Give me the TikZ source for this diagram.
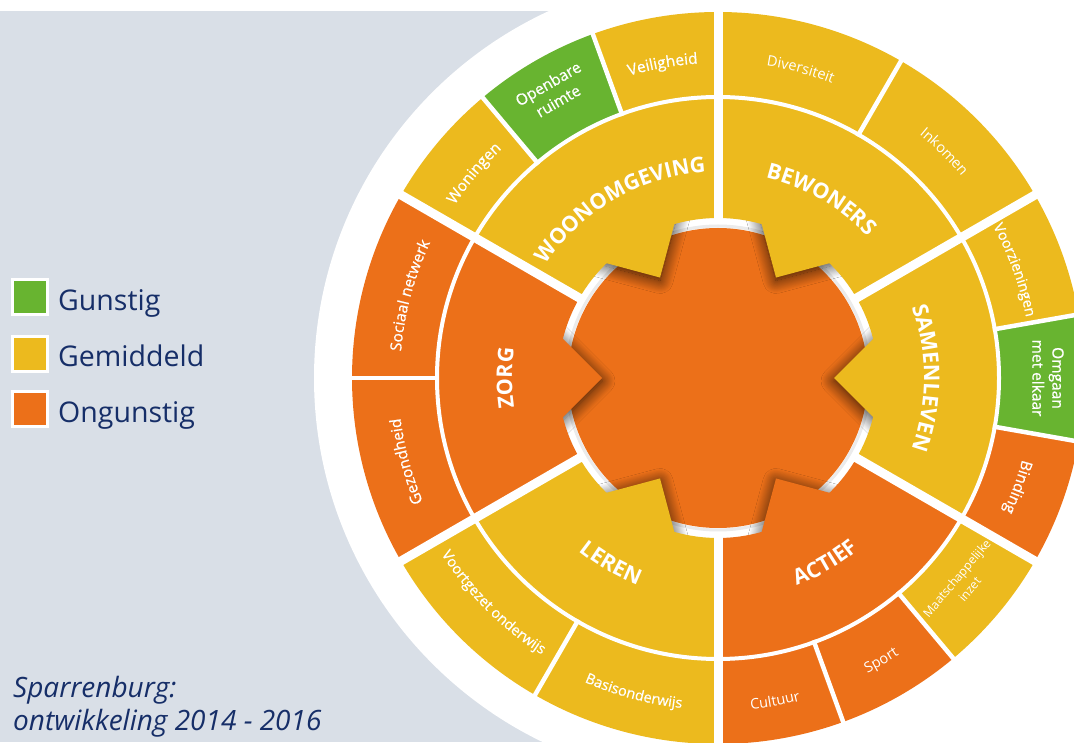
\documentclass[tikz,border=0pt]{standalone}
\usepackage{fontspec}
\setmainfont{Open Sans}
\newfontfamily\semibf[FakeBold=0.6]{Open Sans}
\usetikzlibrary{decorations.text,shadows.blur,calc}
\definecolor{cgreen}{RGB}{104,180,48}
\definecolor{cyellow}{RGB}{236,186,30}
\definecolor{corange}{RGB}{236,112,25}
\definecolor{cbg}{RGB}{217,223,231}
\definecolor{cnavy}{RGB}{22,46,104}
\newcommand\annsec[5]{\fill[#1] (#2:#4pt) arc[start angle=#2,end angle=#3,radius=#4pt] -- (#3:#5pt) arc[start angle=#3,end angle=#2,radius=#5pt] -- cycle;}
\newcommand\mainlbl{\fontsize{21.5}{21.5}\selectfont\bfseries}
\newcommand\smlbl{\fontsize{14.5}{14.5}\selectfont}
\newcommand\smlblb{\semibf\fontsize{15.5}{15.5}\selectfont}
\newcommand\smlblc{\semibf\fontsize{14.5}{14.5}\selectfont}
\newcommand\tipshape[2]{\fill[#2, blur shadow={shadow xshift=0pt, shadow yshift=-3pt, shadow blur radius=13pt, shadow opacity=80, shadow blur steps=18}] (#1:116pt) -- ($(#1:116pt)+(#1+45:110pt)$) -- ($(#1:116pt)+(#1-45:110pt)$) -- cycle;}
\tikzset{
  mainarc/.style={decorate, decoration={text along path, text={|\mainlbl|#1}, text align=center, text color=white}},
  smarc/.style={decorate, decoration={text along path, text={|\smlbl|#1}, text align=center, text color=white}},
  smarcb/.style={decorate, decoration={text along path, text={|\smlblb|#1}, text align=center, text color=white}},
  smarcc/.style={decorate, decoration={text along path, text={|\smlblc|#1}, text align=center, text color=white}},
  thickgap/.style={draw=white, line width=9pt},
  thingap/.style={draw=white, line width=4.5pt},
  twoline/.style={text=white, align=center, inner sep=0pt, font=\semibf\fontsize{15.5}{20}\selectfont},
  legbox/.style={draw=white, line width=3pt, minimum size=35pt, inner sep=0pt},
  legtext/.style={text=cnavy, anchor=base west, inner sep=0pt, font=\fontsize{28.5}{30}\selectfont},
  captext/.style={text=cnavy, anchor=base west, inner sep=0pt, font=\fontsize{28}{30}\selectfont\itshape},
}
\begin{document}
\begin{tikzpicture}[x=1pt,y=1pt]
\useasboundingbox (0,0) rectangle (1074,742);
\clip (0,0) rectangle (1074,742);
\fill[white] (0,0) rectangle (1074,742);
\fill[cbg] (0,0) rectangle (718,731);
\begin{scope}[shift={(718,364)}]
  \fill[white] (0,0) circle[radius=404pt];
  % centre
  \draw[black!8, line width=3pt] (0,0) circle[radius=152pt];
  \fill[corange] (0,0) circle[radius=150pt];
  \tipshape{120}{cyellow}
  \tipshape{60}{cyellow}
  \tipshape{0}{cyellow}
  \tipshape{-60}{corange}
  \tipshape{-120}{cyellow}
  \tipshape{180}{corange}
  % outer ring
  \annsec{cyellow}{90}{110}{281}{366}
  \annsec{cgreen}{110}{130}{281}{366}
  \annsec{cyellow}{130}{150}{281}{366}
  \annsec{cyellow}{30}{90}{281}{366}
  \annsec{cyellow}{10}{30}{281}{366}
  \annsec{cgreen}{-10}{10}{281}{366}
  \annsec{corange}{-30}{-10}{281}{366}
  \annsec{cyellow}{-50}{-30}{281}{366}
  \annsec{corange}{-90}{-50}{281}{366}
  \annsec{cyellow}{-150}{-90}{281}{366}
  \annsec{corange}{150}{210}{281}{366}
  % middle ring
  \annsec{cyellow}{90}{150}{160}{281}
  \annsec{cyellow}{30}{90}{160}{281}
  \annsec{cyellow}{-30}{30}{160}{281}
  \annsec{corange}{-90}{-30}{160}{281}
  \annsec{cyellow}{-150}{-90}{160}{281}
  \annsec{corange}{150}{210}{160}{281}
  % gaps
  \draw[white, line width=4pt] (0,0) circle[radius=281pt];
  \foreach \a in {30,90,150,210,270,330} \draw[thickgap] (\a:159pt) -- (\a:380pt);
  \foreach \a in {110,130,60,10,-10,-50,-70,-120,180} \draw[thingap] (\a:279pt) -- (\a:380pt);
  % main labels
  \path[mainarc=WOONOMGEVING] (150:206pt) arc[start angle=150, end angle=90, radius=206pt];
  \path[mainarc=BEWONERS] (90:206pt) arc[start angle=90, end angle=30, radius=206pt];
  \path[mainarc=SAMENLEVEN] (30:206pt) arc[start angle=30, end angle=-30, radius=206pt];
  \path[mainarc=ZORG] (210:206pt) arc[start angle=210, end angle=150, radius=206pt];
  \path[mainarc=ACTIEF] (-90:222pt) arc[start angle=-90, end angle=-30, radius=222pt];
  \path[mainarc=LEREN] (-150:222pt) arc[start angle=-150, end angle=-90, radius=222pt];
  % small labels
  \path[smarcb=Veiligheid] (110:315pt) arc[start angle=110, end angle=90, radius=315pt];
  \path[smarcb=Woningen] (150:315pt) arc[start angle=150, end angle=130, radius=315pt];
  \path[smarc=Diversiteit] (90:316pt) arc[start angle=90, end angle=60, radius=316pt];
  \path[smarc=Inkomen] (60:316pt) arc[start angle=60, end angle=30, radius=316pt];
  \path[smarcc=Voorzieningen] (30:314pt) arc[start angle=30, end angle=10, radius=314pt];
  \path[smarcb=Binding] (-10:315pt) arc[start angle=-10, end angle=-30, radius=315pt];
  \path[smarcb=Sociaal netwerk] (180:318pt) arc[start angle=180, end angle=150, radius=318pt];
  \path[smarcb=Gezondheid] (210:320pt) arc[start angle=210, end angle=180, radius=320pt];
  \path[smarc=Sport] (-70:331pt) arc[start angle=-70, end angle=-50, radius=331pt];
  \path[smarc=Cultuur] (-90:333pt) arc[start angle=-90, end angle=-70, radius=333pt];
  \path[smarcc=Basisonderwijs] (-120:332pt) arc[start angle=-120, end angle=-90, radius=332pt];
  \path[smarcc=Voortgezet onderwijs] (-150:328pt) arc[start angle=-150, end angle=-120, radius=328pt];
  \node[twoline, rotate=30] (openbare) at (120:330) {Openbare\\ruimte};
  \node[twoline, rotate=-90] (omgaan) at (0:330) {Omgaan\\met elkaar};
  \node[twoline, rotate=50, font=\fontsize{12}{17}\selectfont] (maatsch) at (-40:320) {Maatschappelijke\\inzet};
\end{scope}
% legend
\node[legbox, fill=cgreen] (sqg) at (30,444.5) {};
\node[legbox, fill=cyellow] (sqy) at (30,388) {};
\node[legbox, fill=corange] (sqo) at (30,333) {};
\node[legtext] (lg1) at (58,431) {Gunstig};
\node[legtext] (lg2) at (58,375) {Gemiddeld};
\node[legtext] (lg3) at (58,319) {Ongunstig};
% caption
\node[captext] (cap1) at (13,45) {Sparrenburg:};
\node[captext] (cap2) at (13,12) {ontwikkeling 2014 - 2016};
\end{tikzpicture}
\end{document}
